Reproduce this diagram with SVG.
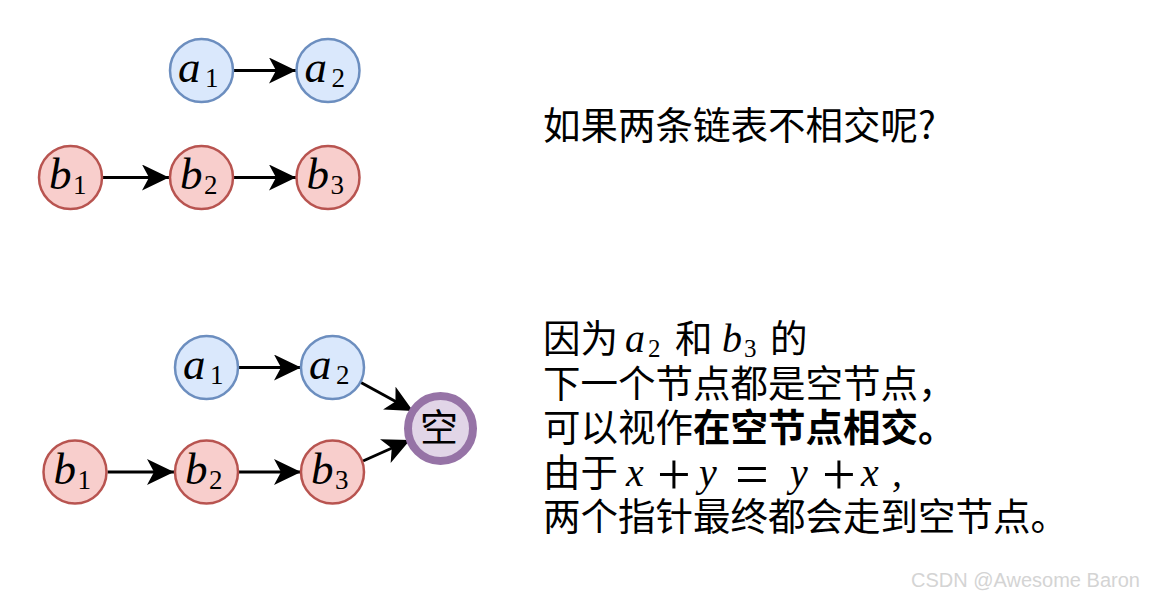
<svg xmlns="http://www.w3.org/2000/svg" width="1152" height="599" viewBox="0 0 1152 599">
<style>
.blue{fill:#dae8fc;stroke:#6c8ebf;stroke-width:2.5}
.red{fill:#f8cecc;stroke:#b85450;stroke-width:2.5}
.nul{fill:#e1d5e7;stroke:#9673a6;stroke-width:8}
.edge{stroke:#000;stroke-width:3;fill:none;marker-end:url(#arr)}
.mi{font-family:"Liberation Serif",serif;font-style:italic;font-size:45px;fill:#000}
.sub{font-family:"Liberation Serif",serif;font-style:normal;font-size:27px;fill:#000}
.cn{font-family:"Noto Sans CJK SC",sans-serif;font-size:37.5px;fill:#000}
.tmi{font-family:"Liberation Serif",serif;font-style:italic;font-size:40px}
.tsub{font-family:"Liberation Serif",serif;font-style:normal;font-size:25px}
.op{font-family:"Liberation Serif",serif;font-style:normal;font-size:60px}
.wm{font-family:"Liberation Sans",Arial,sans-serif;font-size:20px;fill:#d4d4d4}
</style>
<defs>
<marker id="arr" markerUnits="userSpaceOnUse" markerWidth="30" markerHeight="28" refX="27" refY="13" orient="auto">
<path d="M0,0 L27,13 L0,26 L7,13 Z" fill="#000"/>
</marker>
</defs>
<rect width="1152" height="599" fill="#fff"/>
<g id="connectors">
<line class="edge" x1="234" y1="70.5" x2="296" y2="70.5"/>
<line class="edge" x1="103" y1="177.5" x2="169" y2="177.5"/>
<line class="edge" x1="234" y1="177.5" x2="296" y2="177.5"/>
<line class="edge" x1="239" y1="367.5" x2="301" y2="367.5"/>
<line class="edge" x1="107.5" y1="472" x2="174" y2="472"/>
<line class="edge" x1="239" y1="472" x2="301" y2="472"/>
<line class="edge" x1="360" y1="382" x2="413" y2="411"/>
<line class="edge" x1="363" y1="461" x2="410" y2="440"/>
</g>
<g id="top-a1"><circle class="blue" cx="201.5" cy="70.5" r="31.5"/><text class="mi" x="178" y="82">a<tspan class="sub" x="205" y="87">1</tspan></text></g>
<g id="top-a2"><circle class="blue" cx="328" cy="70.5" r="31.5"/><text class="mi" x="304.5" y="82">a<tspan class="sub" x="331.5" y="87">2</tspan></text></g>
<g id="top-b1"><circle class="red" cx="70.5" cy="177.5" r="31.5"/><text class="mi" x="49" y="189">b<tspan class="sub" x="73" y="194">1</tspan></text></g>
<g id="top-b2"><circle class="red" cx="201.5" cy="177.5" r="31.5"/><text class="mi" x="180" y="189">b<tspan class="sub" x="204" y="194">2</tspan></text></g>
<g id="top-b3"><circle class="red" cx="328" cy="177.5" r="31.5"/><text class="mi" x="306.5" y="189">b<tspan class="sub" x="330.5" y="194">3</tspan></text></g>
<g id="bot-a1"><circle class="blue" cx="206.5" cy="367.5" r="31.5"/><text class="mi" x="183" y="379">a<tspan class="sub" x="210" y="384">1</tspan></text></g>
<g id="bot-a2"><circle class="blue" cx="332.5" cy="367.5" r="31.5"/><text class="mi" x="309" y="379">a<tspan class="sub" x="336" y="384">2</tspan></text></g>
<g id="bot-b1"><circle class="red" cx="75" cy="472" r="31.5"/><text class="mi" x="53.5" y="483.5">b<tspan class="sub" x="77.5" y="488.5">1</tspan></text></g>
<g id="bot-b2"><circle class="red" cx="206.5" cy="472" r="31.5"/><text class="mi" x="185" y="483.5">b<tspan class="sub" x="209" y="488.5">2</tspan></text></g>
<g id="bot-b3"><circle class="red" cx="332.5" cy="472" r="31.5"/><text class="mi" x="311" y="483.5">b<tspan class="sub" x="335" y="488.5">3</tspan></text></g>
<g id="bot-null"><circle class="nul" cx="440.5" cy="428.5" r="32.5"/><text class="cn" x="439" y="440.5" text-anchor="middle" style="font-size:38px">空</text></g>
<g id="text-top"><text class="cn" x="543" y="139">如果两条链表不相交呢?</text></g>
<g id="text-bottom">
<text class="cn" x="543" y="352">因为<tspan class="tmi" x="625">a</tspan><tspan class="tsub" x="648" y="357">2</tspan><tspan x="675" y="352">和</tspan><tspan class="tmi" x="722">b</tspan><tspan class="tsub" x="744" y="357">3</tspan><tspan x="770" y="352">的</tspan></text>
<text class="cn" x="543" y="397">下一个节点都是空节点，</text>
<text class="cn" x="543" y="441">可以视作<tspan font-weight="bold">在空节点相交。</tspan></text>
<text class="cn" x="543" y="486">由于<tspan class="tmi" x="626">x</tspan><tspan class="op" x="657" y="494">+</tspan><tspan class="tmi" x="699" y="486">y</tspan><tspan class="op" x="735" y="494">=</tspan><tspan class="tmi" x="790" y="486">y</tspan><tspan class="op" x="822" y="494">+</tspan><tspan class="tmi" x="861" y="486">x</tspan><tspan class="tmi" x="892">,</tspan></text>
<text class="cn" x="543" y="530">两个指针最终都会走到空节点。</text>
</g>
<text class="wm" x="911" y="587">CSDN @Awesome Baron</text>
</svg>
